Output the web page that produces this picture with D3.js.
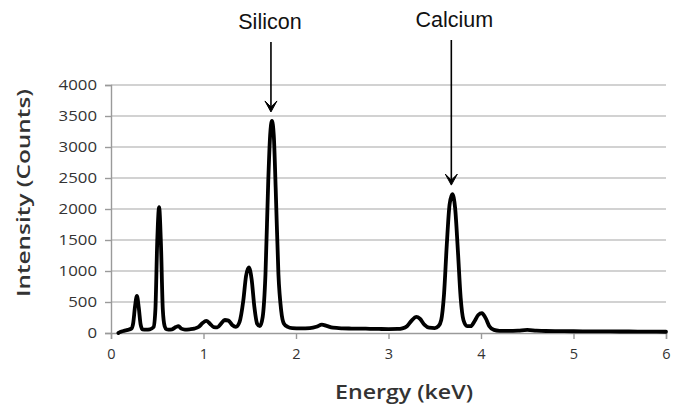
<!DOCTYPE html>
<html>
<head>
<meta charset="utf-8">
<script src="https://cdn.jsdelivr.net/npm/d3@7"></script>
<style>
  html, body { margin: 0; padding: 0; background: #fff; }
  svg { display: block; }
</style>
</head>
<body>
<svg id="chart" width="680" height="408"></svg>
<script>
// EDS spectrum: energy (keV) and detector counts
const energy = [
  0.08, 0.10, 0.14, 0.18, 0.22, 0.24, 0.26, 0.28, 0.30, 0.32, 0.34, 0.38, 0.42, 0.46,
  0.48, 0.50, 0.52, 0.54, 0.56, 0.58, 0.60, 0.62, 0.66, 0.70, 0.73, 0.76, 0.80, 0.85,
  0.90, 0.95, 0.99, 1.03, 1.07, 1.11, 1.15, 1.19, 1.23, 1.27, 1.31, 1.35, 1.39, 1.43,
  1.46, 1.49, 1.52, 1.55, 1.58, 1.61, 1.64, 1.67, 1.70, 1.72, 1.74, 1.76, 1.78, 1.81,
  1.84, 1.87, 1.91, 1.96, 2.05, 2.15, 2.22, 2.28, 2.33, 2.40, 2.50, 2.60, 2.70, 2.80,
  2.90, 3.00, 3.10, 3.15, 3.20, 3.25, 3.30, 3.34, 3.39, 3.44, 3.50, 3.54, 3.57, 3.60,
  3.63, 3.66, 3.69, 3.72, 3.75, 3.78, 3.81, 3.85, 3.89, 3.93, 3.97, 4.01, 4.05, 4.09,
  4.14, 4.20, 4.30, 4.40, 4.50, 4.60, 4.70, 4.85, 5.00, 5.20, 5.40, 5.60, 5.80, 6.00
];
const counts = [
  0, 15, 35, 50, 70, 160, 430, 600, 410, 140, 60, 55, 60, 95,
  380, 1480, 2030, 1430, 380, 110, 60, 55, 60, 95, 110, 70, 55, 60,
  70, 100, 160, 195, 150, 95, 90, 150, 210, 200, 130, 100, 180, 520,
  920, 1060, 870, 420, 150, 110, 260, 950, 2450, 3180, 3420, 3180, 2350, 950,
  360, 150, 100, 80, 75, 80, 100, 135, 115, 85, 75, 72, 70, 68,
  65, 63, 65, 75, 110, 200, 260, 230, 130, 85, 80, 110, 210, 620,
  1420, 2070, 2240, 2020, 1330, 570, 210, 110, 110, 190, 290, 320, 240, 110,
  50, 35, 33, 38, 50, 38, 32, 30, 28, 27, 25, 24, 22, 20
];

const xTicks = [0, 1, 2, 3, 4, 5, 6];
const yTicks = [0, 500, 1000, 1500, 2000, 2500, 3000, 3500, 4000];

// labelled peaks: element name and peak energy
const peakNames = ["Silicon", "Calcium"];
const peakEnergy = [1.74, 3.69];

const xTitle = "Energy (keV)";
const yTitle = "Intensity (Counts)";

const svg = d3.select("#chart");
const x = d3.scaleLinear().domain([0, 6]).range([111, 666]);
const y = d3.scaleLinear().domain([0, 4000]).range([333, 85]);

const tickFont = "'Open Sans', 'DejaVu Sans', sans-serif";

// horizontal gridlines
svg.append("g")
  .selectAll("line")
  .data(yTicks.filter(d => d > 0))
  .join("line")
  .attr("x1", x(0)).attr("x2", x(6))
  .attr("y1", d => y(d)).attr("y2", d => y(d))
  .attr("stroke", "#c3c3c3")
  .attr("stroke-width", 1.6);

// y axis
const yAxis = svg.append("g")
  .attr("transform", `translate(${x(0)},0)`)
  .call(d3.axisLeft(y).tickValues(yTicks).tickSize(6).tickPadding(8).tickFormat(d3.format("d")));
yAxis.select(".domain").attr("stroke", "#9a9a9a").attr("stroke-width", 1.4);
yAxis.selectAll(".tick line").attr("stroke", "#9a9a9a").attr("stroke-width", 1.4);
yAxis.selectAll(".tick text")
  .attr("font-family", tickFont)
  .attr("font-size", 14.5)
  .attr("fill", "#333")
  .attr("textLength", function(d) { return String(d).length * 9.6; })
  .attr("lengthAdjust", "spacingAndGlyphs");

// x axis
const xAxis = svg.append("g")
  .attr("transform", `translate(0,${y(0)})`)
  .call(d3.axisBottom(x).tickValues(xTicks).tickSize(6).tickPadding(10).tickFormat(d3.format("d")));
xAxis.select(".domain").attr("stroke", "#9a9a9a").attr("stroke-width", 1.4);
xAxis.selectAll(".tick line").attr("stroke", "#9a9a9a").attr("stroke-width", 1.4);
xAxis.selectAll(".tick text")
  .attr("font-family", tickFont)
  .attr("font-size", 14.5)
  .attr("fill", "#333");

// spectrum trace
const pts = energy.map((e, i) => [e, counts[i]]);
const line = d3.line()
  .x(d => x(d[0]))
  .y(d => y(d[1]))
  .curve(d3.curveMonotoneX);

svg.append("path")
  .datum(pts)
  .attr("d", line)
  .attr("fill", "none")
  .attr("stroke", "#000")
  .attr("stroke-width", 3.8)
  .attr("stroke-linejoin", "round")
  .attr("stroke-linecap", "round");

// axis titles
svg.append("text")
  .attr("x", 404).attr("y", 399)
  .attr("text-anchor", "middle")
  .attr("font-family", tickFont)
  .attr("font-weight", 600)
  .attr("font-size", 19)
  .attr("fill", "#333")
  .attr("textLength", 138)
  .attr("lengthAdjust", "spacingAndGlyphs")
  .text(xTitle);

svg.append("text")
  .attr("transform", "translate(30,193) rotate(-90)")
  .attr("text-anchor", "middle")
  .attr("font-family", tickFont)
  .attr("font-weight", 600)
  .attr("font-size", 18)
  .attr("fill", "#333")
  .attr("textLength", 208)
  .attr("lengthAdjust", "spacingAndGlyphs")
  .text(yTitle);

// peak annotations with arrows
const peakCounts = peakEnergy.map(e => counts[energy.indexOf(e)]);
const ann = svg.append("g");
peakNames.forEach((name, i) => {
  const px = x(peakEnergy[i]) - 1;
  const tipY = y(peakCounts[i]) - 9;
  const topY = i === 0 ? 42 : 40;
  ann.append("text")
    .attr("x", px + (i === 0 ? -1 : 3))
    .attr("y", i === 0 ? 29 : 27)
    .attr("text-anchor", "middle")
    .attr("font-family", "'Liberation Sans', Arial, sans-serif")
    .attr("font-size", 21.5)
    .attr("fill", "#111")
    .text(name);
  ann.append("line")
    .attr("x1", px).attr("x2", px)
    .attr("y1", topY).attr("y2", tipY - 4)
    .attr("stroke", "#000")
    .attr("stroke-width", 1.6);
  ann.append("path")
    .attr("d", `M${px - 6},${tipY - 11} L${px},${tipY} L${px + 6},${tipY - 11} L${px},${tipY - 5} Z`)
    .attr("fill", "#000")
    .attr("stroke", "#000")
    .attr("stroke-width", 1)
    .attr("stroke-linejoin", "miter");
});
</script>
</body>
</html>
